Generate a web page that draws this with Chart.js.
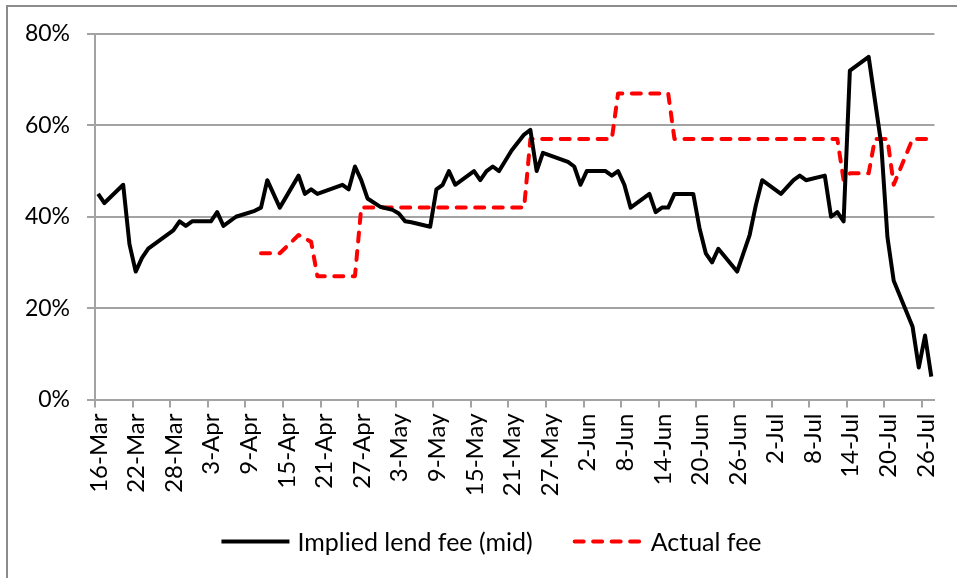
<!DOCTYPE html>
<html>
<head>
<meta charset="utf-8">
<script src="https://cdn.jsdelivr.net/npm/chart.js@4.4.1/dist/chart.umd.min.js"></script>
<style>
  body { margin: 0; background: #fff; }
  #wrap { position: relative; width: 957px; height: 578px; overflow: hidden; background: #fff; }
  #frame { position: absolute; left: 6px; top: 5px; width: 1000px; height: 600px; border: 2px solid #8c8c8c; box-sizing: border-box; }
  #feeChart { position: absolute; left: 0; top: 0; }
</style>
</head>
<body>
<div id="wrap">
  <div id="frame"></div>
  <canvas id="feeChart" width="957" height="578"></canvas>
</div>
<script>
// 날짜는 16-Mar 부터의 일수
const tickLabels = ['16-Mar', '22-Mar', '28-Mar', '3-Apr', '9-Apr', '15-Apr', '21-Apr', '27-Apr',
    '3-May', '9-May', '15-May', '21-May', '27-May', '2-Jun', '8-Jun', '14-Jun', '20-Jun', '26-Jun',
    '2-Jul', '8-Jul', '14-Jul', '20-Jul', '26-Jul'];

const lendDays = [0, 1, 4, 5, 6, 7, 8, 12, 13, 14, 15, 18, 19, 20, 22, 25, 26, 27, 29, 32, 33, 34, 35,
    39, 40, 41, 42, 43, 45, 47, 48, 49, 50, 53, 54, 55, 56, 57, 60, 61, 62, 63, 64, 66, 68, 69, 70, 71,
    75, 76, 77, 78, 81, 82, 83, 84, 85, 88, 89, 90, 91, 92, 95, 96, 97, 98, 99, 102, 104, 105, 106,
    109, 111, 112, 113, 116, 117, 118, 119, 120, 123, 125, 126, 127, 130, 131, 132, 133];
const lendFee = [45, 43, 47, 34, 28, 31, 33, 37, 39, 38, 39, 39, 41, 38, 40, 41.3, 42, 48, 42, 49, 45, 46, 45,
    47, 46, 51, 48, 44, 42.2, 41.5, 40.7, 39, 38.8, 37.8, 46, 47, 50, 47, 50, 48, 50, 51, 50, 54.5, 58, 59, 50, 54,
    52, 51, 47, 50, 50, 49, 50, 47, 42, 45, 41, 42, 42, 45, 45, 37.5, 32, 30, 33, 28, 36, 42.6, 48,
    45, 48, 49, 48, 49, 40, 41, 39, 72, 75, 56, 35.5, 26, 16, 7, 14, 5];

const actualDays = [26, 29, 32, 34, 35, 41, 42, 68, 69, 82, 83, 91, 92, 118, 119, 120, 123, 124, 126, 127, 130, 133];
const actualFee = [32, 32, 36, 34.5, 27, 27, 42, 42, 57, 57, 67, 67, 57, 57, 48, 49.5, 49.5, 57, 57, 47, 57, 57];

const FONT = 'Lato';
const GRID = '#a3a3a3';

function toPoints(days, values) {
    return days.map((d, i) => ({ x: d, y: values[i] }));
}

// 아래쪽 범례 직접 그리기
const bottomLegend = {
    id: 'bottomLegend',
    afterDraw(chart) {
        const ctx = chart.ctx;
        const y = 541.5;
        const lineLen = 68;
        const gapText = 8;
        const gapItem = 42;
        ctx.save();
        ctx.font = '25px ' + FONT;
        const items = chart.data.datasets.map(ds => ({ ds: ds, w: ctx.measureText(ds.label).width }));
        let total = 0;
        items.forEach((it, i) => { total += lineLen + gapText + it.w + (i ? gapItem : 0); });
        let x = 491.5 - total / 2;
        items.forEach(it => {
            ctx.beginPath();
            ctx.strokeStyle = it.ds.borderColor;
            ctx.lineWidth = it.ds.borderWidth;
            ctx.lineCap = it.ds.borderCapStyle || 'butt';
            ctx.setLineDash(it.ds.borderDash || []);
            ctx.moveTo(x, y);
            ctx.lineTo(x + lineLen, y);
            ctx.stroke();
            ctx.setLineDash([]);
            ctx.fillStyle = '#000';
            ctx.textBaseline = 'middle';
            ctx.textAlign = 'left';
            ctx.fillText(it.ds.label, x + lineLen + gapText, y + 1);
            x += lineLen + gapText + it.w + gapItem;
        });
        ctx.restore();
    }
};

function createChart() {
    const ctx = document.getElementById('feeChart').getContext('2d');
    window.feeChart = new Chart(ctx, {
        type: 'line',
        data: {
            datasets: [{
                label: 'Implied lend fee (mid)',
                data: toPoints(lendDays, lendFee),
                borderColor: '#000000',
                borderWidth: 4,
                borderJoinStyle: 'round',
                pointRadius: 0,
                tension: 0,
                fill: false
            }, {
                label: 'Actual fee',
                data: toPoints(actualDays, actualFee),
                borderColor: '#ff0000',
                borderWidth: 4,
                borderDash: [9, 9.5],
                borderCapStyle: 'round',
                borderJoinStyle: 'round',
                pointRadius: 0,
                tension: 0,
                fill: false
            }]
        },
        options: {
            responsive: false,
            animation: false,
            events: [],
            layout: { padding: { left: 0, top: 34, right: 19.5, bottom: 78.5 } },
            plugins: {
                legend: { display: false },
                tooltip: { enabled: false }
            },
            scales: {
                x: {
                    type: 'linear',
                    min: -0.5,
                    max: 133.5,
                    afterBuildTicks: scale => {
                        scale.ticks = tickLabels.map((t, i) => ({ value: -0.5 + i * 6 }));
                    },
                    afterFit: scale => { scale.height = 100; },
                    grid: { drawOnChartArea: false, drawTicks: true, tickLength: 8, color: GRID, lineWidth: 2 },
                    border: { display: true, color: GRID, width: 2 },
                    ticks: {
                        autoSkip: false,
                        minRotation: 90,
                        maxRotation: 90,
                        padding: 6,
                        labelOffset: 4,
                        color: '#000',
                        font: { family: FONT, size: 24 },
                        callback: (v, i) => tickLabels[i]
                    }
                },
                y: {
                    min: 0,
                    max: 80,
                    afterFit: scale => { scale.width = 95; },
                    grid: { color: GRID, lineWidth: 2, tickLength: 8 },
                    border: { display: true, color: GRID, width: 2 },
                    ticks: {
                        stepSize: 20,
                        padding: 17,
                        color: '#000',
                        font: { family: FONT, size: 23 },
                        callback: v => v + '%'
                    }
                }
            }
        },
        plugins: [bottomLegend]
    });
}

createChart();
</script>
</body>
</html>
